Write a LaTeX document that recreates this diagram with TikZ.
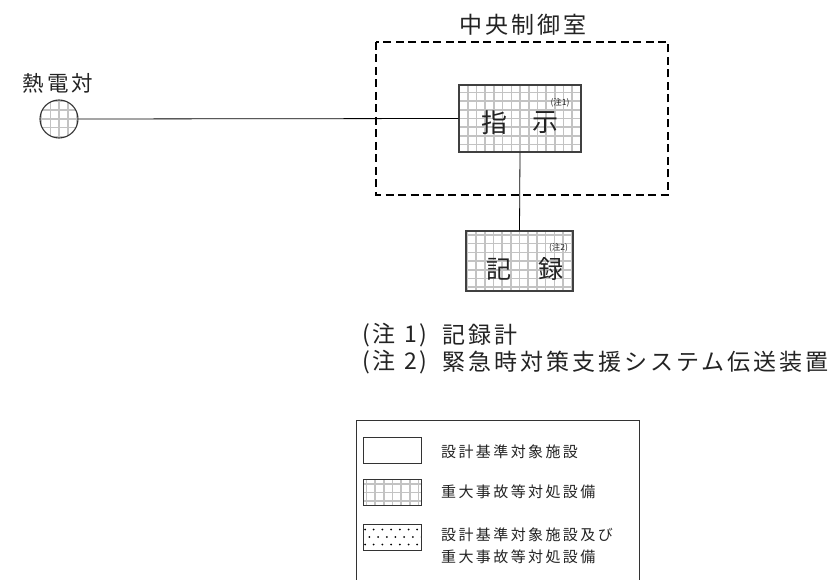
\documentclass[tikz,border=0pt]{standalone}
\usepackage{fontspec}
\newfontfamily\jp{Noto Sans CJK JP}
\newfontfamily\jpt{Noto Sans CJK JP}[LetterSpace=13]
\newfontfamily\jpl{Noto Sans CJK JP}[LetterSpace=16]
\definecolor{gridc}{RGB}{195,195,195}
\definecolor{txt}{RGB}{35,35,35}
\tikzset{
  gridfill/.style={path picture={
      \draw[gridc, line width=1.6pt] (path picture bounding box.south west) grid[xstep=8.7pt,ystep=8.7pt] (path picture bounding box.north east);
    }},
  sabox/.style={draw=black!75, line width=1.1pt, gridfill, inner sep=0pt, rectangle},
  lbl/.style={font=\jp, text=txt, inner sep=0pt},
  conn/.style={draw=black, line width=0.8pt},
  legbox/.style={draw=black!80, line width=1pt, inner sep=0pt, minimum width=58pt, minimum height=26pt},
}
\begin{document}
\begin{tikzpicture}[x=1pt,y=-1pt]
\useasboundingbox (0,0) rectangle (840,580);
% central control room
\node[lbl, font=\jpt\fontsize{23}{23}\selectfont] (roomlbl) at (523,25) {中央制御室};
\draw[black, line width=1.6pt, dash pattern=on 8pt off 4.5pt] (376,42) rectangle (668,195);
% thermocouple
\node[lbl, font=\jpt\fontsize{21.5}{21.5}\selectfont] (tclbl) at (58,83) {熱電対};
\node[circle, draw=black!80, line width=1.1pt, gridfill, minimum size=38pt, inner sep=0pt] (tc) at (59,119) {};
% indicator
\node[sabox, minimum width=122pt, minimum height=67pt] (ind) at (520,118.5) {};
\node[lbl, font=\jp\fontsize{26}{26}\selectfont] (ind1) at (494.5,123) {指};
\node[lbl, font=\jp\fontsize{26}{26}\selectfont] (ind2) at (545.5,123) {示};
\node[lbl, font=\jp\fontsize{8.5}{8.5}\selectfont] (n1) at (560,103) {(注1)};
% recorder
\node[sabox, minimum width=107pt, minimum height=60pt] (rec) at (519.5,261) {};
\node[lbl, font=\jp\fontsize{25}{25}\selectfont] (rec1) at (498.5,269) {記};
\node[lbl, font=\jp\fontsize{25}{25}\selectfont] (rec2) at (550.5,269) {録};
\node[lbl, font=\jp\fontsize{8.5}{8.5}\selectfont] (n2) at (558.5,248) {(注2)};
% connectors
\draw[conn] (tc.east) -- (ind.west);
\draw[conn] (ind.south) -- (rec.north);
% notes
\node[lbl, anchor=west, font=\jpt\fontsize{23}{23}\selectfont] (note1a) at (362,335) {(注 1)};
\node[lbl, anchor=west, font=\jpt\fontsize{23}{23}\selectfont] (note1b) at (442,335) {記録計};
\node[lbl, anchor=west, font=\jpt\fontsize{23}{23}\selectfont] (note2a) at (362,362) {(注 2)};
\node[lbl, anchor=west, font=\jpt\fontsize{23}{23}\selectfont] (note2b) at (442,362) {緊急時対策支援システム伝送装置};
% legend
\draw[black!80, line width=1pt] (356,585) -- (356,420) -- (639,420) -- (639,585);
\node[legbox, anchor=north west] (lg1) at (363,437) {};
\node[legbox, anchor=north west, gridfill] (lg2) at (363,479) {};
\node[legbox, anchor=north west, path picture={
   \foreach \i in {0,1,2} {
     \pgfmathsetmacro{\off}{mod(\i,2)*4.35}
     \foreach \j in {0,...,6} {
       \fill[black] (path picture bounding box.north west) ++({(1.5+\j*8.7+\off)*1pt},{-(5+\i*7.5)*1pt}) circle (1pt);
     }
   }}] (lg3) at (363,524) {};
\node[lbl, anchor=west, font=\jpl\fontsize{15}{15}\selectfont] (lt1) at (441,452) {設計基準対象施設};
\node[lbl, anchor=west, font=\jpl\fontsize{15}{15}\selectfont] (lt2) at (441,492) {重大事故等対処設備};
\node[lbl, anchor=west, font=\jpl\fontsize{15}{15}\selectfont] (lt3) at (441,535) {設計基準対象施設及び};
\node[lbl, anchor=west, font=\jpl\fontsize{15}{15}\selectfont] (lt4) at (441,557) {重大事故等対処設備};
\end{tikzpicture}
\end{document}
